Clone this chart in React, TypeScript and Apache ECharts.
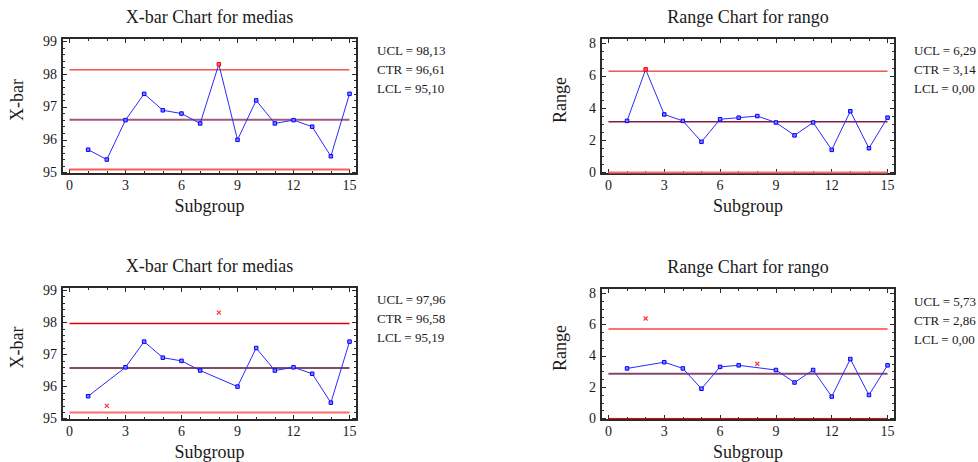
import React, { useEffect, useRef } from "react";
import * as echarts from "echarts";

const subgroups = [1, 2, 3, 4, 5, 6, 7, 8, 9, 10, 11, 12, 13, 14, 15];
const xbarValues = [95.7, 95.4, 96.6, 97.4, 96.9, 96.8, 96.5, 98.3, 96.0, 97.2, 96.5, 96.6, 96.4, 95.5, 97.4];
const rangeValues = [3.2, 6.4, 3.6, 3.2, 1.9, 3.3, 3.4, 3.5, 3.1, 2.3, 3.1, 1.4, 3.8, 1.5, 3.4];
// [UCL, CTR, LCL]
const xbarLimitsTop = [98.13, 96.61, 95.1];
const rangeLimitsTop = [6.29, 3.14, 0.0];
const xbarLimitsBottom = [97.96, 96.58, 95.19];
const rangeLimitsBottom = [5.73, 2.86, 0.0];
const excludedSubgroups = [2, 8];
const xTickLabels = [0, 3, 6, 9, 12, 15];
const xMinorTicks = [0, 1, 2, 3, 4, 5, 6, 7, 8, 9, 10, 11, 12, 13, 14, 15];
const xbarTickLabels = [95, 96, 97, 98, 99];
const rangeTickLabels = [0, 2, 4, 6, 8];
const limitNames = ["UCL", "CTR", "LCL"];

const FONT = '"Liberation Serif", "Times New Roman", serif';
const AXIS_COLOR = "#2a2a2a";
const TEXT_COLOR = "#1a1a1a";

function steps(from: number, to: number, step: number) {
  const out: number[] = [];
  const n = Math.round((to - from) / step);
  for (let i = 0; i <= n; i++) out.push(+(from + i * step).toFixed(4));
  return out;
}

function fmt(v: number) {
  return v.toFixed(2).replace(".", ",");
}

type Panel = {
  grid: { left: number; top: number; width: number; height: number };
  title: string;
  yName: string;
  yNameGap: number;
  yMin: number;
  yMax: number;
  yLabels: number[];
  yMinor: number[];
  limits: number[];
  limitStyles: { color: string; width: number }[];
  values: number[];
  exclude: boolean;
  legendX: number;
  legendY: number;
};

const panels: Panel[] = [
  {
    grid: { left: 62, top: 38, width: 295, height: 136 },
    title: "X-bar Chart for medias",
    yName: "X-bar",
    yNameGap: 36,
    yMin: 94.96,
    yMax: 99.1,
    yLabels: xbarTickLabels,
    yMinor: steps(95, 99, 0.2),
    limits: xbarLimitsTop,
    limitStyles: [
      { color: "#e00000", width: 1 },
      { color: "#a0587e", width: 2 },
      { color: "#ff5a5a", width: 2 },
    ],
    values: xbarValues,
    exclude: false,
    legendX: 377,
    legendY: 50,
  },
  {
    grid: { left: 601, top: 38, width: 294, height: 136 },
    title: "Range Chart for rango",
    yName: "Range",
    yNameGap: 32,
    yMin: -0.1,
    yMax: 8.35,
    yLabels: rangeTickLabels,
    yMinor: steps(0, 8, 0.5),
    limits: rangeLimitsTop,
    limitStyles: [
      { color: "#e00000", width: 1 },
      { color: "#861a48", width: 1.5 },
      { color: "#ff6a6a", width: 2 },
    ],
    values: rangeValues,
    exclude: false,
    legendX: 914,
    legendY: 50,
  },
  {
    grid: { left: 62, top: 287, width: 295, height: 137 },
    title: "X-bar Chart for medias",
    yName: "X-bar",
    yNameGap: 36,
    yMin: 94.96,
    yMax: 99.1,
    yLabels: xbarTickLabels,
    yMinor: steps(95, 99, 0.2),
    limits: xbarLimitsBottom,
    limitStyles: [
      { color: "#e00000", width: 1.5 },
      { color: "#5a1030", width: 1.5 },
      { color: "#ff6a6a", width: 2 },
    ],
    values: xbarValues,
    exclude: true,
    legendX: 377,
    legendY: 299,
  },
  {
    grid: { left: 601, top: 288, width: 294, height: 136 },
    title: "Range Chart for rango",
    yName: "Range",
    yNameGap: 32,
    yMin: -0.1,
    yMax: 8.35,
    yLabels: rangeTickLabels,
    yMinor: steps(0, 8, 0.5),
    limits: rangeLimitsBottom,
    limitStyles: [
      { color: "#ff7070", width: 2 },
      { color: "#84466f", width: 2 },
      { color: "#e00000", width: 1 },
    ],
    values: rangeValues,
    exclude: true,
    legendX: 914,
    legendY: 301,
  },
];

const CROSS = "path://M0,0L10,10M10,0L0,10";

function buildOption() {
  const grid: any[] = [];
  const xAxis: any[] = [];
  const yAxis: any[] = [];
  const series: any[] = [];
  const graphic: any[] = [];

  panels.forEach((p, gi) => {
    grid.push({ ...p.grid, containLabel: false });
    const xBase = xAxis.length;
    const yBase = yAxis.length;
    const lineStyle = { color: AXIS_COLOR, width: 2 };
    const tickStyle = { color: AXIS_COLOR, width: 1 };

    const xCommon = { type: "value", gridIndex: gi, min: -0.4, max: 15.4, splitLine: { show: false } };
    xAxis.push({
      ...xCommon,
      position: "bottom",
      axisLine: { show: true, onZero: false, lineStyle },
      axisTick: { show: true, inside: true, length: 5, customValues: xTickLabels, lineStyle: tickStyle },
      axisLabel: {
        show: true,
        customValues: xTickLabels,
        fontSize: 14,
        fontFamily: FONT,
        color: TEXT_COLOR,
        margin: 4,
      },
      name: "Subgroup",
      nameLocation: "middle",
      nameGap: 23,
      nameTextStyle: { fontSize: 18, fontFamily: FONT, color: TEXT_COLOR },
    });
    xAxis.push({
      ...xCommon,
      position: "bottom",
      axisLine: { show: false, onZero: false },
      axisTick: { show: true, inside: true, length: 3, customValues: xMinorTicks, lineStyle: tickStyle },
      axisLabel: { show: false },
    });
    xAxis.push({
      ...xCommon,
      position: "top",
      axisLine: { show: true, onZero: false, lineStyle },
      axisTick: { show: true, inside: true, length: 5, customValues: xTickLabels, lineStyle: tickStyle },
      axisLabel: { show: false },
    });
    xAxis.push({
      ...xCommon,
      position: "top",
      axisLine: { show: false, onZero: false },
      axisTick: { show: true, inside: true, length: 3, customValues: xMinorTicks, lineStyle: tickStyle },
      axisLabel: { show: false },
    });

    const yCommon = { type: "value", gridIndex: gi, min: p.yMin, max: p.yMax, splitLine: { show: false } };
    yAxis.push({
      ...yCommon,
      position: "left",
      axisLine: { show: true, onZero: false, lineStyle },
      axisTick: { show: true, inside: true, length: 5, customValues: p.yLabels, lineStyle: tickStyle },
      axisLabel: {
        show: true,
        customValues: p.yLabels,
        fontSize: 14,
        fontFamily: FONT,
        color: TEXT_COLOR,
        margin: 5,
      },
      name: p.yName,
      nameLocation: "middle",
      nameGap: p.yNameGap,
      nameRotate: 90,
      nameTextStyle: { fontSize: 18, fontFamily: FONT, color: TEXT_COLOR, padding: [0, 0, 0, 12] },
    });
    yAxis.push({
      ...yCommon,
      position: "left",
      axisLine: { show: false, onZero: false },
      axisTick: { show: true, inside: true, length: 3, customValues: p.yMinor, lineStyle: tickStyle },
      axisLabel: { show: false },
    });
    yAxis.push({
      ...yCommon,
      position: "right",
      axisLine: { show: true, onZero: false, lineStyle },
      axisTick: { show: true, inside: true, length: 5, customValues: p.yLabels, lineStyle: tickStyle },
      axisLabel: { show: false },
    });
    yAxis.push({
      ...yCommon,
      position: "right",
      axisLine: { show: false, onZero: false },
      axisTick: { show: true, inside: true, length: 3, customValues: p.yMinor, lineStyle: tickStyle },
      axisLabel: { show: false },
    });

    // control limit lines
    p.limits.forEach((v, li) => {
      series.push({
        type: "line",
        xAxisIndex: xBase,
        yAxisIndex: yBase,
        data: [
          [0, v],
          [15, v],
        ],
        symbol: "none",
        silent: true,
        z: 2,
        lineStyle: { color: p.limitStyles[li].color, width: p.limitStyles[li].width },
      });
    });

    const [ucl, , lcl] = p.limits;
    const lineData = subgroups.map((s, i) => {
      const v = p.values[i];
      if (p.exclude && excludedSubgroups.includes(s)) return [s, null];
      const out = v > ucl || v < lcl;
      return {
        value: [s, v],
        itemStyle: out
          ? { color: "#ff6060", borderColor: "#ff0000", borderWidth: 1 }
          : { color: "#8080ff", borderColor: "#0000ff", borderWidth: 1 },
      };
    });
    series.push({
      type: "line",
      xAxisIndex: xBase,
      yAxisIndex: yBase,
      data: lineData,
      connectNulls: true,
      symbol: "rect",
      symbolSize: 3.5,
      showAllSymbol: true,
      z: 5,
      lineStyle: { color: "#2a2aff", width: 1 },
      itemStyle: { color: "#8080ff", borderColor: "#0000ff", borderWidth: 1 },
    });
    if (p.exclude) {
      series.push({
        type: "scatter",
        xAxisIndex: xBase,
        yAxisIndex: yBase,
        data: subgroups
          .map((s, i) => [s, p.values[i]])
          .filter((d) => excludedSubgroups.includes(d[0])),
        symbol: CROSS,
        symbolSize: 4,
        z: 6,
        itemStyle: { color: "#ff0000", borderColor: "#ff0000", borderWidth: 1.2 },
      });
    }

    // title
    graphic.push({
      type: "text",
      x: p.grid.left + p.grid.width / 2,
      y: p.grid.top - 21,
      style: {
        text: p.title,
        font: `18px ${FONT}`,
        fill: TEXT_COLOR,
        align: "center",
        verticalAlign: "middle",
      },
    });
    // limit legend
    p.limits.forEach((v, li) => {
      graphic.push({
        type: "text",
        x: p.legendX,
        y: p.legendY + li * 19.4,
        style: {
          text: `${limitNames[li]} = ${fmt(v)}`,
          font: `13px ${FONT}`,
          fill: TEXT_COLOR,
          align: "left",
          verticalAlign: "middle",
        },
      });
    });
  });

  return {
    animation: false,
    backgroundColor: "#ffffff",
    grid,
    xAxis,
    yAxis,
    series,
    graphic,
  };
}

export default function App() {
  const ref = useRef<HTMLDivElement>(null);
  useEffect(() => {
    document.body.style.margin = "0";
    if (!ref.current) return;
    const chart = echarts.init(ref.current, undefined, { renderer: "svg" });
    chart.setOption(buildOption() as any);
    return () => chart.dispose();
  }, []);
  return <div ref={ref} style={{ width: 978, height: 462 }} />;
}
